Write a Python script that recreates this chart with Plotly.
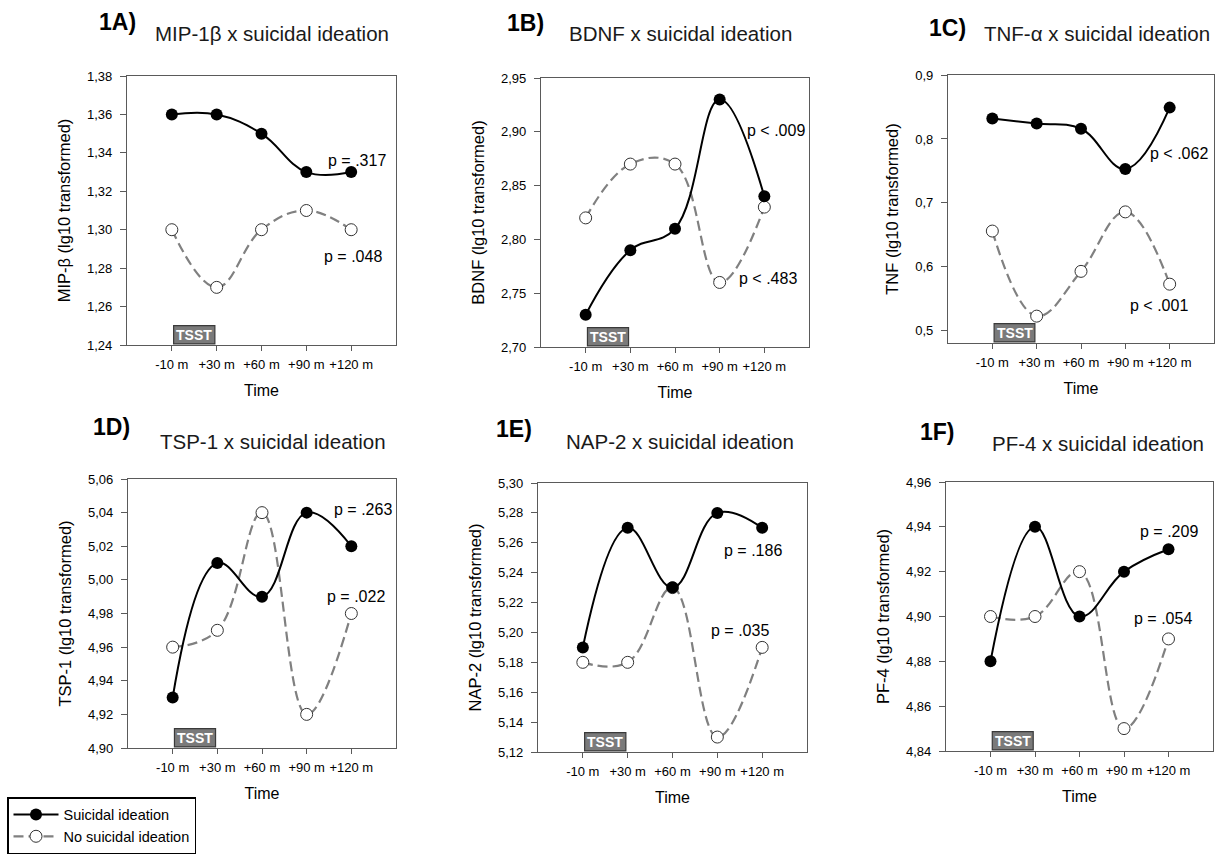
import plotly.graph_objects as go

# ---------------- data ----------------
times = ["-10 m", "+30 m", "+60 m", "+90 m", "+120 m"]

panel_labels = ["1A)", "1B)", "1C)", "1D)", "1E)", "1F)"]
panel_titles = ["MIP-1β x suicidal ideation", "BDNF x suicidal ideation",
                "TNF-α x suicidal ideation", "TSP-1 x suicidal ideation",
                "NAP-2 x suicidal ideation", "PF-4 x suicidal ideation"]
y_titles = ["MIP-β (lg10 transformed)", "BDNF (lg10 transformed)",
            "TNF (lg10 transformed)", "TSP-1 (lg10 transformed)",
            "NAP-2 (lg10 transformed)", "PF-4 (lg10 transformed)"]

mip_si = [1.36, 1.36, 1.35, 1.33, 1.33]
mip_no = [1.30, 1.27, 1.30, 1.31, 1.30]
bdnf_si = [2.73, 2.79, 2.81, 2.93, 2.84]
bdnf_no = [2.82, 2.87, 2.87, 2.76, 2.83]
tnf_si = [0.832, 0.824, 0.816, 0.753, 0.849]
tnf_no = [0.656, 0.523, 0.593, 0.686, 0.573]
tsp_si = [4.93, 5.01, 4.99, 5.04, 5.02]
tsp_no = [4.96, 4.97, 5.04, 4.92, 4.98]
nap_si = [5.19, 5.27, 5.23, 5.28, 5.27]
nap_no = [5.18, 5.18, 5.23, 5.13, 5.19]
pf_si = [4.88, 4.94, 4.90, 4.92, 4.93]
pf_no = [4.90, 4.90, 4.92, 4.85, 4.89]

si_series = [mip_si, bdnf_si, tnf_si, tsp_si, nap_si, pf_si]
no_series = [mip_no, bdnf_no, tnf_no, tsp_no, nap_no, pf_no]

p_si = ["p = .317", "p < .009", "p < .062", "p = .263", "p = .186", "p = .209"]
p_no = ["p = .048", "p < .483", "p < .001", "p = .022", "p = .035", "p = .054"]

# y axis: (min, max, first tick, step, format)
y_axes = [(1.24, 1.38, 1.24, 0.02, ".2f"),
          (2.70, 2.95, 2.70, 0.05, ".2f"),
          (0.481, 0.90, 0.50, 0.10, ".1f"),
          (4.90, 5.06, 4.90, 0.02, ".2f"),
          (5.12, 5.30, 5.12, 0.02, ".2f"),
          (4.84, 4.96, 4.84, 0.02, ".2f")]

# ---------------- layout geometry (pixels) ----------------
W, H = 1215, 860
# left, right, top, bottom of each plot box
boxes = [(127, 396, 76, 345), (541, 809, 78, 347), (948, 1214, 75, 343),
         (128, 396, 479, 748), (538, 807, 483, 752), (946, 1213, 482, 751)]
# panel label (left x, center y) and title (left x, center y)
label_pos = [(97, 22), (505, 23), (927, 28), (91, 427), (494, 429), (918, 432)]
title_pos = [(153, 33), (567, 33), (982, 33), (158, 442), (564, 442), (990, 443)]
# p-value label positions in data coords (category index, value)
p_si_pos = [(4.14, 1.336), (4.25, 2.901), (4.20, 0.777), (4.25, 5.0416), (3.80, 5.255), (4.01, 4.938)]
p_no_pos = [(4.04, 1.286), (4.09, 2.764), (3.75, 0.539), (4.10, 4.990), (3.50, 5.2016), (3.87, 4.899)]

FONT = "Liberation Sans, Arial, sans-serif"
AXC = "#5a5a5a"

fig = go.Figure()
annotations = []
shapes = []
layout = {}

for i in range(6):
    n = "" if i == 0 else str(i + 1)
    xa, ya = "x" + n, "y" + n
    l, r, t, b = boxes[i]
    fig.add_trace(go.Scatter(
        x=times, y=no_series[i], xaxis=xa, yaxis=ya,
        mode="lines+markers", name="No suicidal ideation",
        line=dict(color="#808080", width=2.2, dash="10px,5px", shape="spline", smoothing=1.15),
        marker=dict(size=12, color="white", line=dict(color="#333333", width=1)),
        showlegend=(i == 0), legendrank=2))
    fig.add_trace(go.Scatter(
        x=times, y=si_series[i], xaxis=xa, yaxis=ya,
        mode="lines+markers", name="Suicidal ideation",
        line=dict(color="black", width=2, shape="spline", smoothing=1.15),
        marker=dict(size=12, color="black"),
        showlegend=(i == 0), legendrank=1))

    ymin, ymax, t0, dt, fmt = y_axes[i]
    layout["xaxis" + n] = dict(
        domain=[l / W, r / W], anchor=ya, type="category",
        categoryorder="array", categoryarray=times, range=[-1, 5],
        showline=True, mirror=True, linecolor=AXC, linewidth=1.3,
        ticks="outside", ticklen=5, tickcolor=AXC, tickwidth=1.3,
        showgrid=False, zeroline=False, ticklabelstandoff=2, automargin=False,
        tickfont=dict(family=FONT, size=13, color="black"),
        title=dict(text="Time", font=dict(family=FONT, size=16, color="black"), standoff=14))
    layout["yaxis" + n] = dict(
        domain=[1 - b / H, 1 - t / H], anchor=xa, range=[ymin, ymax],
        tick0=t0, dtick=dt, tickformat=fmt,
        showline=True, mirror=True, linecolor=AXC, linewidth=1.3,
        ticks="outside", ticklen=6, tickcolor=AXC, tickwidth=1.3,
        showgrid=False, zeroline=False, ticklabelstandoff=5, automargin=False,
        tickfont=dict(family=FONT, size=13, color="black"),
        title=dict(text=y_titles[i], font=dict(family=FONT, size=16.5, color="black"), standoff=12))

    # TSST box
    shapes.append(dict(type="rect", xref=xa, yref=ya + " domain",
                       x0=0.04, x1=0.96, y0=0.004, y1=0.072,
                       fillcolor="#7a7a7a", line=dict(color="#3a3a3a", width=1.2), layer="above"))
    annotations.append(dict(xref=xa, yref=ya + " domain", x=0.5, y=0.038,
                            text="<b>TSST</b>", showarrow=False, yanchor="middle",
                            font=dict(family=FONT, size=14, color="white")))
    # p-values
    annotations.append(dict(xref=xa, yref=ya, x=p_si_pos[i][0], y=p_si_pos[i][1],
                            text=p_si[i], showarrow=False,
                            font=dict(family=FONT, size=16, color="black")))
    annotations.append(dict(xref=xa, yref=ya, x=p_no_pos[i][0], y=p_no_pos[i][1],
                            text=p_no[i], showarrow=False,
                            font=dict(family=FONT, size=16, color="black")))
    # titles
    annotations.append(dict(xref="paper", yref="paper", x=label_pos[i][0] / W,
                            y=1 - label_pos[i][1] / H, xanchor="left", yanchor="middle",
                            text="<b>" + panel_labels[i] + "</b>", showarrow=False,
                            font=dict(family=FONT, size=23, color="black")))
    annotations.append(dict(xref="paper", yref="paper", x=title_pos[i][0] / W,
                            y=1 - title_pos[i][1] / H, xanchor="left", yanchor="middle",
                            text=panel_titles[i], showarrow=False,
                            font=dict(family=FONT, size=20.5, color="#1a1a1a")))

fig.update_layout(
    template="none",
    width=W, height=H, margin=dict(l=0, r=0, t=0, b=0, autoexpand=False),
    paper_bgcolor="white", plot_bgcolor="white",
    separators=", ",
    font=dict(family=FONT, color="black"),
    showlegend=True,
    legend=dict(x=7 / W, y=1 - 797 / H, xanchor="left", yanchor="top",
                bordercolor="black", borderwidth=1.5, bgcolor="white",
                font=dict(family=FONT, size=14.5, color="black"),
                itemwidth=45, traceorder="normal"),
    annotations=annotations, shapes=shapes,
    **layout)

fig.write_html("out.html", config={"displayModeBar": False},
               post_script="document.body.style.margin='0px';document.body.style.overflow='hidden';")
